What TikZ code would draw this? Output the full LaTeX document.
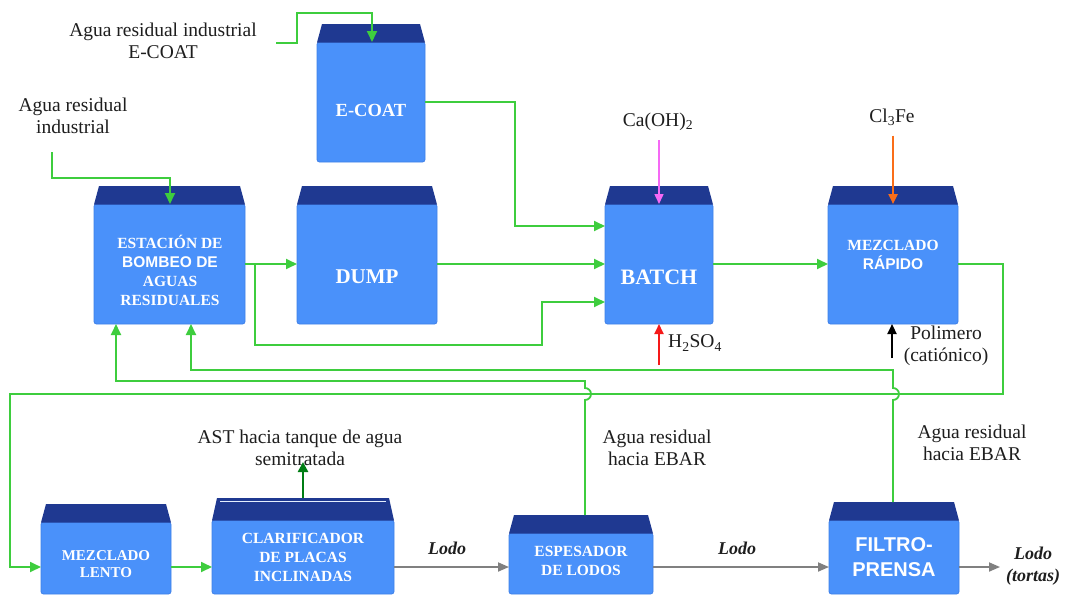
\documentclass[tikz,border=0pt]{standalone}
\usepackage{fontspec}
\setmainfont{Liberation Serif}
\newfontfamily\arialf{Liberation Sans}
\usetikzlibrary{arrows.meta,calc}

\definecolor{tankbody}{RGB}{74,145,250}
\definecolor{tankedge}{RGB}{62,128,232}
\definecolor{tanktop}{RGB}{31,57,145}
\definecolor{flowgreen}{RGB}{62,205,62}
\definecolor{astgreen}{RGB}{0,125,20}
\definecolor{sludge}{RGB}{128,128,128}
\definecolor{limec}{RGB}{245,105,245}
\definecolor{ironc}{RGB}{250,110,25}
\definecolor{acidc}{RGB}{245,25,25}
\definecolor{labelc}{RGB}{30,30,30}

% lid of a tank: trapezoid sitting on top of the body node
\newcommand\tanklid[2]{%
  \fill[tanktop] ([yshift=-0.5pt]#1.north west) -- ([xshift=5pt,yshift=#2]#1.north west)
    -- ([xshift=-5pt,yshift=#2]#1.north east) -- ([yshift=-0.5pt]#1.north east) -- cycle;}

\begin{document}
\begin{tikzpicture}[x=1pt,y=-1pt,
  tank/.style={fill=tankbody, draw=tankedge, line width=0.8pt, rounded corners=2.5pt,
    inner sep=0pt, outer sep=0pt},
  boxtxt/.style={text=white, align=center, inner sep=0pt,
    font=\bfseries\fontsize{15.5}{19}\selectfont},
  bigtxt/.style={text=white, inner sep=0pt, font=\bfseries\fontsize{21}{24}\selectfont},
  lbl/.style={text=labelc, align=center, inner sep=0pt,
    font=\fontsize{19.5}{22.5}\selectfont},
  lodo/.style={text=labelc, align=center, inner sep=0pt,
    font=\bfseries\itshape\fontsize{18}{22}\selectfont},
  gtip/.style={-{Triangle[length=11pt,width=10pt]}},
  gline/.style={draw=flowgreen, line width=1.8pt, gtip},
  sline/.style={draw=sludge, line width=1.8pt, -{Triangle[length=11pt,width=9pt]}},
  dose/.style={line width=1.8pt, -{Triangle[length=10pt,width=9pt]}},
]
\useasboundingbox (0,0) rectangle (1065,600);
\fill[white] (0,0) rectangle (1065,600);

% ---- tanks ----
\node[tank, minimum width=108pt, minimum height=120pt] (ecoat) at (371,102) {};
\node[tank, minimum width=151pt, minimum height=120pt] (est) at (169.5,264) {};
\node[tank, minimum width=140pt, minimum height=120pt] (dump) at (367,264) {};
\node[tank, minimum width=108pt, minimum height=120pt] (batch) at (659,264) {};
\node[tank, minimum width=130pt, minimum height=120pt] (mr) at (893,264) {};
\node[tank, minimum width=130pt, minimum height=72pt] (ml) at (106,558) {};
\node[tank, minimum width=182pt, minimum height=74pt] (cl) at (303,557) {};
\node[tank, minimum width=144pt, minimum height=61pt] (esp) at (581,563.5) {};
\node[tank, minimum width=130pt, minimum height=74pt] (fp) at (894,557) {};

\tanklid{ecoat}{18pt}
\tanklid{est}{18pt}
\tanklid{dump}{18pt}
\tanklid{batch}{18pt}
\tanklid{mr}{18pt}
\tanklid{ml}{18pt}
\tanklid{cl}{22pt}
\tanklid{esp}{18pt}
\tanklid{fp}{18pt}
% thin light stripe along the clarifier lid
\draw[white!85!tankbody, line width=0.9pt] ([xshift=8pt,yshift=19pt]cl.north west) -- ([xshift=-8pt,yshift=19pt]cl.north east);

% ---- tank captions ----
\node[bigtxt, font=\bfseries\fontsize{18.5}{22}\selectfont] (ecoat-t) at (371,110) {E-COAT};
\node[boxtxt] (est-t) at (170,270) {ESTACIÓN DE\\{\arialf BOMBEO DE}\\AGUAS\\RESIDUALES};
\node[bigtxt] (dump-t) at (367,277) {DUMP};
\node[bigtxt, font=\bfseries\fontsize{22}{24}\selectfont] (batch-t) at (659,277) {BATCH};
\node[boxtxt] (mr-t) at (893,255) {MEZCLADO\\{\arialf RÁPIDO}};
\node[boxtxt, font=\bfseries\fontsize{15}{17}\selectfont] (ml-t) at (106,564) {MEZCLADO\\LENTO};
\node[boxtxt] (cl-t) at (303,557) {CLARIFICADOR\\DE PLACAS\\INCLINADAS};
\node[boxtxt] (esp-t) at (581,561) {ESPESADOR\\DE LODOS};
\node[boxtxt, font=\arialf\bfseries\fontsize{20}{25}\selectfont] (fp-t) at (894,557) {FILTRO-\\PRENSA};

% ---- outside labels ----
\node[lbl] (ecoatin) at (163,41) {Agua residual industrial\\E-COAT};
\node[lbl] (indin) at (73,116) {Agua residual\\industrial};
\node[lbl] (caoh) at (658,122) {Ca(OH)\textsubscript{2}};
\node[lbl] (clfe) at (892,117) {Cl\textsubscript{3}Fe};
\node[lbl, anchor=west] (h2so4) at (668,343) {H\textsubscript{2}SO\textsubscript{4}};
\node[lbl] (poli) at (946,346) {Polimero\\(catiónico)};
\node[lbl] (ast) at (300,448) {AST hacia tanque de agua\\semitratada};
\node[lbl] (ebar1) at (657,448) {Agua residual\\hacia EBAR};
\node[lbl] (ebar2) at (972,443) {Agua residual\\hacia EBAR};
\node[lodo] (lodo1) at (447,548) {Lodo};
\node[lodo] (lodo2) at (737,548) {Lodo};
\node[lodo] (lodo3) at (1033,566) {Lodo\\(tortas)};

% ---- free ends and junctions ----
\coordinate (in1) at (276,43);
\coordinate (in2) at (52,152);
\coordinate (split) at ([xshift=10pt]est.east);
\coordinate (flow) at (0,567);
\coordinate (esp-top) at ([xshift=4pt,yshift=18pt]esp.north);
\coordinate (fp-top) at ([xshift=-1pt,yshift=18pt]fp.north);
\coordinate (cl-top) at ([yshift=22pt]cl.north);
\coordinate (acid-in) at ([yshift=-41pt]batch.south);
\coordinate (poly-in) at ([xshift=-1pt,yshift=-34pt]mr.south);

% ---- water lines ----
\draw[gline] (in1) -- ++(21pt,0pt) |- ([xshift=1pt,yshift=29pt]ecoat.north) -- ([xshift=1pt]ecoat.north);
\draw[gline] (in2) |- ([xshift=0.5pt,yshift=26pt]est.north) -- ([xshift=0.5pt]est.north);
\draw[gline] (ecoat.east) -| (515,226) -- ([yshift=38pt]batch.west);
\draw[gline] (est.east) -- (dump.west);
\draw[gline] (dump.east) -- (batch.west);
\draw[gline] (split) |- (542,345) |- ([yshift=-38pt]batch.west);
\draw[gline] (batch.east) -- (mr.west);
\draw[gline] (mr.east) -- (1003,264) -- (1003,394) -- (10,394) |- (flow -| ml.west);
\draw[gline] (flow -| ml.east) -- (flow -| cl.west);
% returns to the pumping station, hopping over the line at y=394
\draw[gline] (esp-top) -- (585,400) arc[start angle=-90,end angle=90,radius=6pt]
  -- (585,381) -| ([xshift=22pt]est.south west);
\draw[gline] (fp-top) -- (893,400) arc[start angle=-90,end angle=90,radius=6pt]
  -- (893,370) -| ([xshift=21.5pt]est.south);

% ---- treated water out ----
\draw[astgreen, line width=2.8pt, -{Triangle[length=10pt,width=10pt]}] (cl-top) -- ++(0pt,36pt);

% ---- sludge line ----
\draw[sline] (flow -| cl.east) -- (flow -| esp.west);
\draw[sline] (flow -| esp.east) -- (flow -| fp.west);
\draw[sline] (flow -| fp.east) -- ++(41pt,0pt);

% ---- chemical dosing ----
\draw[dose, limec, line width=1.5pt] ([yshift=-9pt]caoh.south -| batch.north) -- (batch.north);
\draw[dose, ironc, line width=2.3pt] ([yshift=-10pt]clfe.south -| mr.north) -- (mr.north);
\draw[dose, acidc] (acid-in) -- (batch.south);
\draw[dose, black, line width=2.2pt] (poly-in) -- ([xshift=-1pt]mr.south);
\end{tikzpicture}
\end{document}
